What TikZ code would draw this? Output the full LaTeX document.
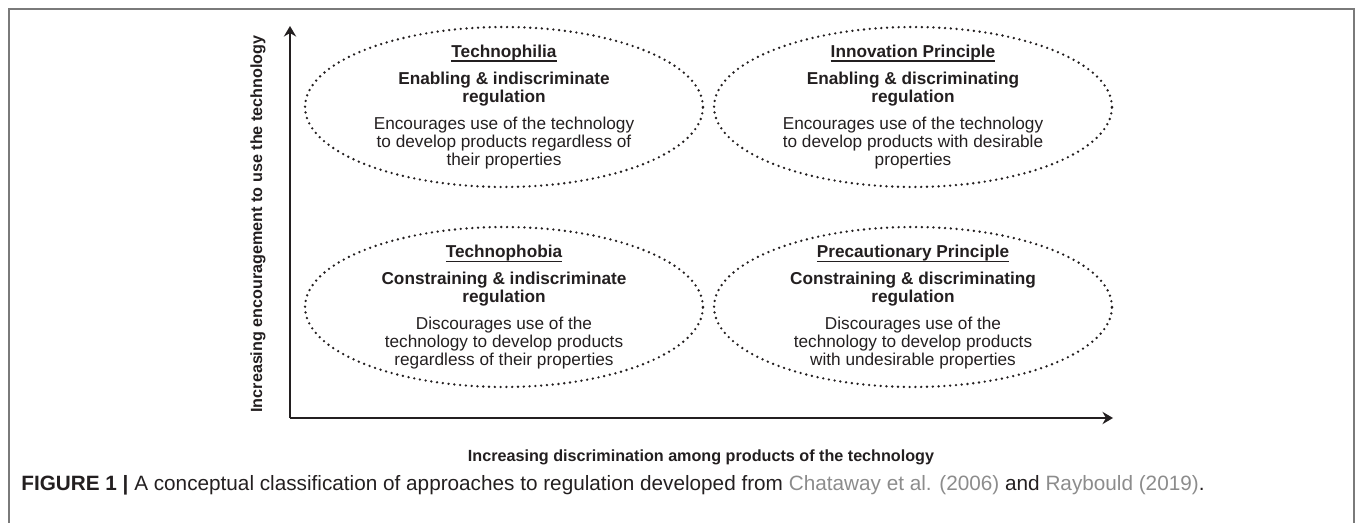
\documentclass[tikz,border=0pt]{standalone}
\usepackage{fontspec}
\setmainfont{Liberation Sans}
\usepackage{xcolor}
\usetikzlibrary{shapes.geometric,arrows.meta,positioning}
\definecolor{ink}{HTML}{231F20}
\definecolor{framegray}{HTML}{7A7A7A}
\definecolor{citegray}{HTML}{8C8C8C}
% bold heading with a heavier underline
\newcommand{\quadhead}[1]{\setbox0\hbox{\textbf{#1}}%
  \leavevmode\rlap{\rule[-2.4pt]{\wd0}{0.9pt}}\box0}

\begin{document}
\begin{tikzpicture}[x=0.02cm,y=-0.02cm,
  quad/.style={ellipse,draw=ink,line width=1.5pt,dash pattern=on 0pt off 3.3pt,
    line cap=round,minimum width=7.96cm,minimum height=3.2cm,inner sep=0pt},
  quadtext/.style={align=center,text=ink,inner sep=0pt,
    font=\fontsize{9.8}{10.2}\selectfont},
  axis/.style={draw=ink,line width=1.4pt,-{Stealth[length=6pt,width=7pt,inset=2pt]}},
  axislabel/.style={text=ink,inner sep=0pt,font=\fontsize{9.2}{11}\selectfont\bfseries}]
\useasboundingbox (0,0) rectangle (1355,523);
% open frame round the figure
\draw[framegray,line width=1.1pt] (9,523) -- (9,9) -- (1354,9) -- (1354,523);

% axes
\coordinate (origin) at (290,418);
\coordinate (ytip) at (290,26);
\coordinate (xtip) at (1113,418);
\draw[axis] (origin) -- (ytip);
\draw[axis] (origin) -- (xtip);
\node[axislabel,rotate=90] (ylab) at (258,224) {Increasing encouragement to use the technology};
\node[axislabel,anchor=base] (xlab) at (701,461) {Increasing discrimination among products of the technology};

% the four quadrants
\node[quad] (philia) at (504,107) {};
\node[quad] (innov)  at (913,107) {};
\node[quad] (phobia) at (504,307) {};
\node[quad] (precau) at (913,307) {};

\node[quadtext] (philiatxt) at (philia) {\quadhead{Technophilia}\\[5pt]
  \textbf{Enabling \& indiscriminate}\\\textbf{regulation}\\[5pt]
  Encourages use of the technology\\to develop products regardless of\\their properties};
\node[quadtext] (innovtxt) at (innov) {\quadhead{Innovation Principle}\\[5pt]
  \textbf{Enabling \& discriminating}\\\textbf{regulation}\\[5pt]
  Encourages use of the technology\\to develop products with desirable\\properties};
\node[quadtext] (phobiatxt) at (phobia) {\quadhead{Technophobia}\\[5pt]
  \textbf{Constraining \& indiscriminate}\\\textbf{regulation}\\[5pt]
  Discourages use of the\\technology to develop products\\regardless of their properties};
\node[quadtext] (precautxt) at (precau) {\quadhead{Precautionary Principle}\\[5pt]
  \textbf{Constraining \& discriminating}\\\textbf{regulation}\\[5pt]
  Discourages use of the\\technology to develop products\\with undesirable properties};

% caption line
\node[anchor=base west,text=ink,inner sep=0pt,font=\fontsize{11.8}{13}\selectfont] (caption) at (21,490)
  {\textbf{FIGURE 1 |} A conceptual classification of approaches to regulation developed from
   \textcolor{citegray}{Chataway et al. (2006)} and \textcolor{citegray}{Raybould (2019)}.};
\end{tikzpicture}
\end{document}
